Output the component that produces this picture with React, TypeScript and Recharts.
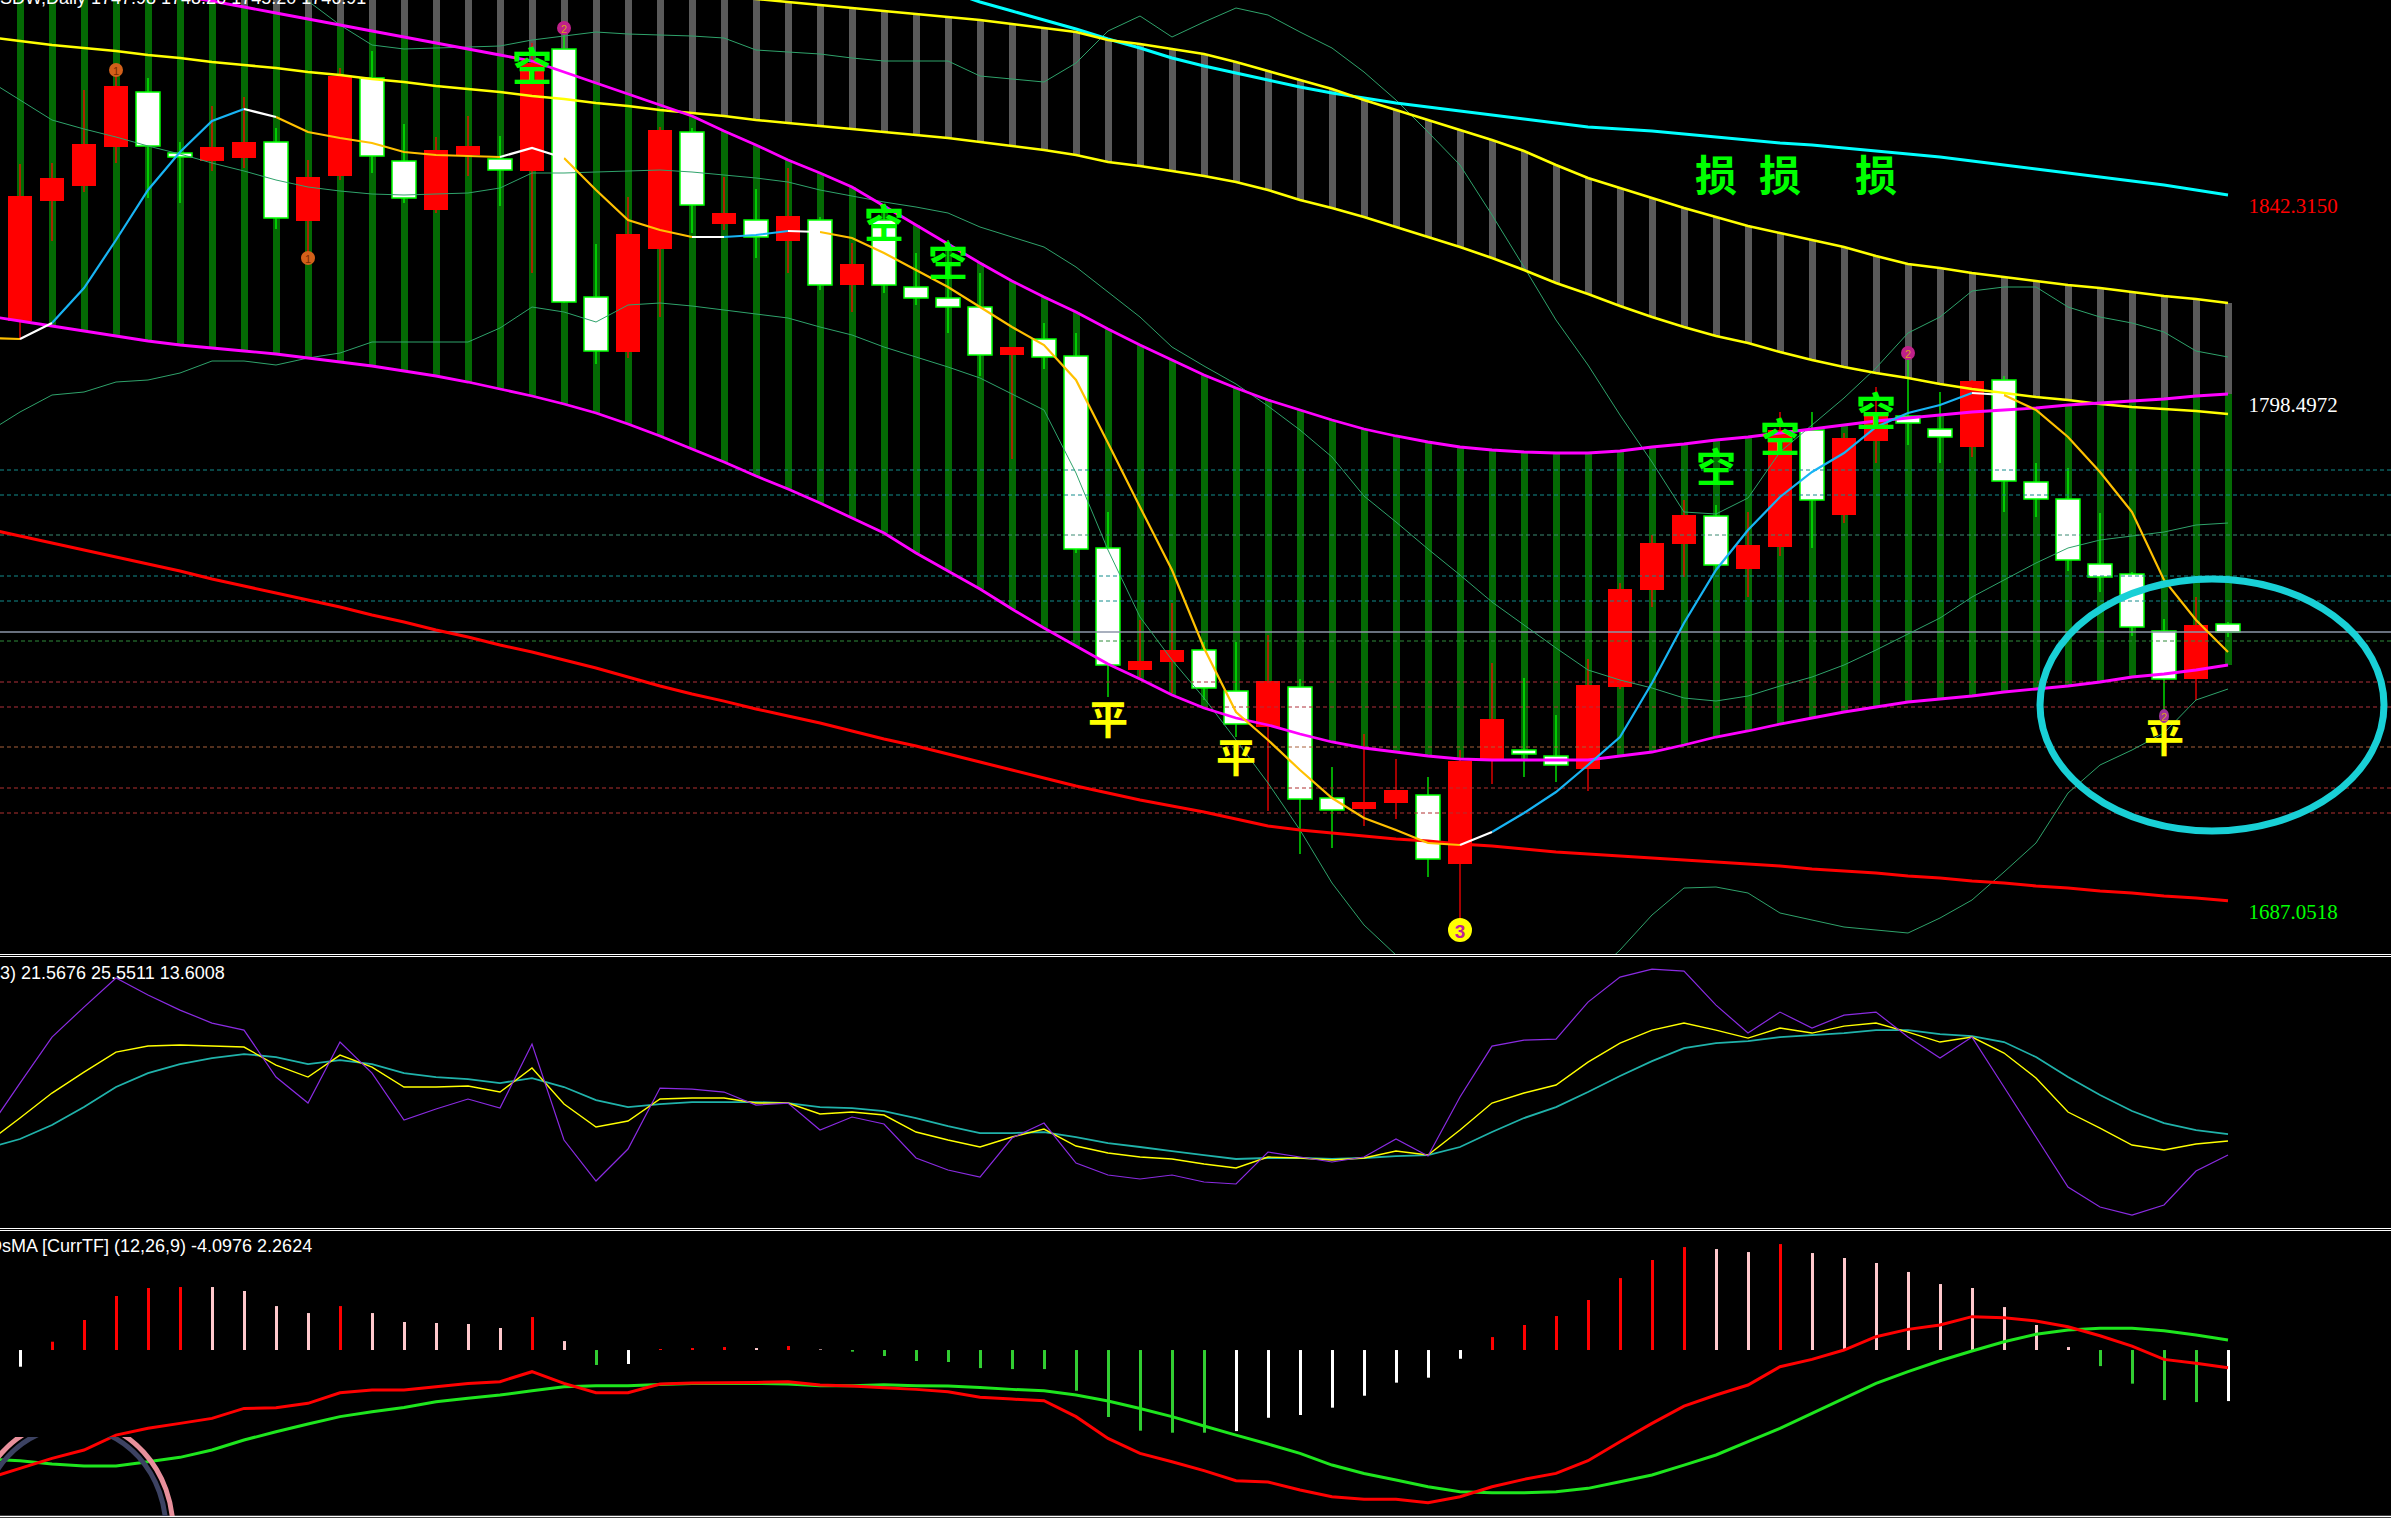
import React from "react";
import { ComposedChart, Bar, Line, XAxis, YAxis, ReferenceLine, ReferenceDot, Cell } from "recharts";

// slot 0 is the bar just left of the window, slots 1..70 are the visible candles
const candleOpen = [1814.60, 1841.00, 1844.30, 1852.88, 1864.98, 1851.56, 1849.80, 1850.46, 1853.98, 1836.60,
  1846.50, 1868.06, 1849.80, 1839.02, 1851.12, 1850.24, 1847.60, 1874.44, 1819.88, 1807.78,
  1830.44, 1856.18, 1835.94, 1836.82, 1832.20, 1836.82, 1822.52, 1836.82, 1822.08, 1819.66,
  1817.68, 1807.12, 1810.64, 1806.90, 1764.66, 1737.82, 1739.58, 1742.22, 1733.20, 1725.28,
  1734.08, 1709.66, 1707.24, 1708.56, 1710.32, 1695.14, 1718.02, 1720.22, 1718.90, 1716.04,
  1734.08, 1755.42, 1765.54, 1771.70, 1760.04, 1764.88, 1790.62, 1771.92, 1788.20, 1793.70,
  1790.84, 1786.88, 1801.62, 1779.18, 1775.44, 1761.14, 1758.94, 1746.40, 1735.84, 1747.94];
const candleHigh = [1849.14, 1849.36, 1865.42, 1868.72, 1868.06, 1853.98, 1861.90, 1863.88, 1857.06, 1850.02,
  1870.26, 1874.00, 1857.94, 1855.08, 1859.70, 1855.30, 1875.76, 1877.96, 1831.54, 1841.88,
  1857.28, 1857.06, 1846.28, 1843.64, 1848.26, 1837.48, 1831.76, 1839.68, 1829.56, 1832.42,
  1825.16, 1808.88, 1814.16, 1811.96, 1772.58, 1748.82, 1752.56, 1743.98, 1743.98, 1745.52,
  1735.84, 1716.48, 1723.74, 1718.24, 1714.28, 1720.22, 1739.36, 1736.06, 1727.92, 1740.24,
  1756.96, 1767.52, 1775.22, 1774.12, 1772.58, 1794.58, 1794.58, 1789.96, 1800.08, 1806.68,
  1798.98, 1801.62, 1802.50, 1783.36, 1782.26, 1772.36, 1759.38, 1749.04, 1753.88, 1748.38];
const candleLow = [1810.42, 1832.20, 1842.98, 1849.36, 1841.66, 1840.56, 1847.60, 1848.26, 1834.84, 1829.12,
  1845.62, 1847.16, 1840.56, 1838.36, 1846.50, 1839.90, 1825.16, 1818.56, 1805.14, 1806.46,
  1815.48, 1833.96, 1834.62, 1828.46, 1825.16, 1821.42, 1816.58, 1820.76, 1818.12, 1811.96,
  1802.50, 1784.24, 1804.04, 1763.56, 1731.88, 1736.28, 1732.76, 1731.22, 1723.08, 1706.80,
  1697.34, 1698.66, 1703.50, 1705.04, 1692.28, 1681.28, 1712.74, 1714.28, 1713.18, 1711.20,
  1733.64, 1751.68, 1758.28, 1760.04, 1753.88, 1762.90, 1764.66, 1770.16, 1783.36, 1787.32,
  1783.36, 1784.68, 1772.58, 1771.48, 1759.60, 1754.98, 1745.30, 1729.02, 1731.22, 1745.08];
const candleClose = [1842.10, 1846.06, 1853.54, 1866.30, 1853.10, 1850.68, 1852.88, 1853.98, 1837.26, 1846.28,
  1868.50, 1850.90, 1841.66, 1852.22, 1853.10, 1847.82, 1871.36, 1818.78, 1808.00, 1833.74,
  1856.62, 1840.12, 1838.36, 1833.08, 1837.70, 1822.52, 1827.14, 1822.52, 1819.66, 1817.68,
  1807.12, 1808.88, 1806.68, 1764.44, 1738.92, 1739.80, 1742.22, 1733.86, 1725.94, 1735.40,
  1709.44, 1707.02, 1708.78, 1711.42, 1696.24, 1717.80, 1727.04, 1719.34, 1716.92, 1734.52,
  1755.64, 1765.76, 1771.92, 1760.92, 1765.32, 1790.62, 1775.22, 1788.86, 1794.36, 1792.16,
  1789.08, 1801.40, 1779.40, 1775.44, 1762.02, 1758.28, 1747.28, 1735.84, 1747.72, 1746.18];

// channel / band lines: first value belongs to the off-window bar at the left edge
const yellowHi = [1900.62, 1899.96, 1899.30, 1898.64, 1897.98, 1897.32, 1896.88, 1896.22, 1895.56, 1894.90, 1894.24,
  1893.58, 1892.92, 1892.26, 1891.60, 1891.16, 1890.50, 1889.84, 1889.18, 1888.52, 1887.86,
  1887.20, 1886.54, 1886.10, 1885.44, 1884.78, 1884.12, 1883.46, 1882.80, 1882.14, 1881.48,
  1880.82, 1879.94, 1879.06, 1878.18, 1876.42, 1875.54, 1874.44, 1873.34, 1871.58, 1869.60,
  1867.62, 1865.64, 1863.22, 1861.02, 1858.82, 1856.62, 1854.42, 1852.00, 1848.92, 1846.06,
  1843.86, 1841.66, 1839.46, 1837.48, 1835.50, 1833.96, 1832.42, 1830.88, 1828.90, 1827.14,
  1826.26, 1825.16, 1824.28, 1823.40, 1822.52, 1821.86, 1820.98, 1820.10, 1819.44, 1818.56];
const yellowLo = [1877.08, 1876.20, 1875.32, 1874.66, 1874.00, 1873.12, 1872.46, 1871.58, 1870.92, 1870.26, 1869.38,
  1868.72, 1867.84, 1867.18, 1866.30, 1865.64, 1864.98, 1864.10, 1863.44, 1862.56, 1861.90,
  1861.02, 1860.36, 1859.70, 1858.82, 1858.16, 1857.50, 1856.84, 1856.18, 1855.52, 1854.86,
  1853.98, 1853.10, 1852.22, 1851.12, 1849.58, 1848.70, 1847.60, 1846.50, 1845.18, 1843.42,
  1841.22, 1839.46, 1837.48, 1835.28, 1833.08, 1830.88, 1828.46, 1825.82, 1822.96, 1820.54,
  1817.90, 1815.48, 1813.28, 1811.30, 1809.76, 1807.78, 1806.02, 1804.48, 1803.16, 1802.06,
  1800.74, 1799.64, 1798.76, 1797.88, 1797.22, 1796.34, 1795.68, 1795.24, 1794.80, 1794.14];
const magentaHi = [1894.02, 1892.70, 1891.38, 1890.06, 1888.74, 1887.42, 1886.10, 1885.00, 1883.68, 1882.36, 1881.04,
  1879.72, 1878.40, 1877.08, 1875.76, 1874.44, 1873.12, 1871.80, 1869.38, 1866.96, 1864.54,
  1862.12, 1859.70, 1856.40, 1853.32, 1850.02, 1847.16, 1844.08, 1839.90, 1835.72, 1831.54,
  1827.36, 1823.40, 1819.88, 1816.58, 1812.84, 1809.32, 1806.02, 1802.72, 1799.86, 1797.22,
  1795.02, 1792.82, 1790.84, 1789.30, 1787.98, 1786.88, 1786.22, 1785.78, 1785.56, 1785.56,
  1786.00, 1786.88, 1787.54, 1788.42, 1789.08, 1789.96, 1790.84, 1791.72, 1792.60, 1793.26,
  1793.92, 1794.58, 1795.02, 1795.46, 1796.12, 1796.56, 1797.00, 1797.44, 1798.10, 1798.54];
const magentaLo = [1815.70, 1814.60, 1813.50, 1812.40, 1811.30, 1810.20, 1809.32, 1808.66, 1808.00, 1807.34, 1806.46,
  1805.58, 1804.70, 1803.60, 1802.50, 1801.18, 1799.64, 1798.10, 1796.34, 1794.36, 1791.94,
  1789.30, 1786.44, 1783.58, 1780.50, 1777.64, 1774.56, 1771.26, 1767.96, 1763.56, 1759.60,
  1755.64, 1751.24, 1747.06, 1743.10, 1739.14, 1735.84, 1732.32, 1729.46, 1727.26, 1725.72,
  1723.74, 1721.98, 1720.66, 1719.78, 1718.90, 1718.24, 1718.02, 1718.02, 1718.02, 1718.02,
  1718.90, 1719.78, 1721.32, 1723.08, 1724.40, 1725.94, 1727.26, 1728.58, 1729.68, 1730.78,
  1731.44, 1732.10, 1732.98, 1733.64, 1734.30, 1735.18, 1736.28, 1736.94, 1737.82, 1738.92];
const cyanLine = [null, null, null, null, null, null, null, null, null, null, null,
  null, null, null, null, null, null, null, null, null, null,
  null, null, null, null, 1898.86, 1896.66, 1894.24, 1891.82, 1889.62, 1887.20,
  1884.78, 1882.80, 1880.82, 1878.84, 1876.64, 1874.66, 1872.46, 1870.70, 1869.16, 1867.62,
  1866.08, 1864.76, 1863.66, 1862.56, 1861.68, 1860.80, 1859.92, 1859.04, 1858.16, 1857.28,
  1856.84, 1856.40, 1855.74, 1855.08, 1854.42, 1853.76, 1853.32, 1852.66, 1852.00, 1851.34,
  1850.68, 1849.80, 1848.92, 1848.04, 1847.16, 1846.28, 1845.40, 1844.52, 1843.42, 1842.32];
const redLine = [1768.84, 1767.30, 1765.76, 1764.22, 1762.68, 1761.14, 1759.60, 1757.84, 1756.30, 1754.76, 1753.22,
  1751.68, 1749.92, 1748.38, 1746.62, 1745.08, 1743.32, 1741.78, 1740.02, 1738.26, 1736.28,
  1734.30, 1732.54, 1730.98, 1729.24, 1727.70, 1726.16, 1724.40, 1722.64, 1721.10, 1719.34,
  1717.58, 1715.82, 1714.06, 1712.30, 1710.76, 1709.22, 1707.90, 1706.58, 1705.04, 1703.50,
  1702.62, 1701.96, 1701.30, 1700.64, 1700.20, 1699.54, 1699.10, 1698.44, 1697.78, 1697.34,
  1696.90, 1696.46, 1696.02, 1695.58, 1695.14, 1694.70, 1694.04, 1693.60, 1693.16, 1692.50,
  1692.06, 1691.40, 1690.96, 1690.30, 1689.86, 1689.20, 1688.76, 1688.10, 1687.66, 1687.05];
const bandUp = [1894.02, 1896.22, 1898.42, 1900.62, 1902.82, 1902.82, 1900.62, 1898.42, 1894.02, 1889.62, 1885.00,
  1879.72, 1875.32, 1874.44, 1874.66, 1874.88, 1875.10, 1876.42, 1877.30, 1878.18, 1877.74,
  1877.52, 1877.30, 1876.86, 1874.22, 1873.78, 1873.34, 1872.46, 1871.80, 1871.80, 1871.80,
  1868.50, 1867.84, 1867.18, 1871.36, 1878.40, 1881.70, 1877.08, 1880.38, 1883.46, 1881.92,
  1878.18, 1874.66, 1869.38, 1863.22, 1856.18, 1848.92, 1837.92, 1826.48, 1814.82, 1804.92,
  1793.92, 1783.58, 1772.58, 1772.14, 1775.66, 1785.78, 1791.72, 1797.66, 1804.26, 1811.96,
  1815.48, 1821.20, 1822.08, 1822.08, 1817.68, 1815.48, 1814.16, 1812.18, 1808.00, 1806.68];
const bandMid = [1867.62, 1863.22, 1858.82, 1856.84, 1855.08, 1853.10, 1851.34, 1849.36, 1847.60, 1845.62, 1844.08,
  1843.20, 1842.54, 1842.32, 1842.54, 1842.76, 1843.86, 1847.16, 1847.16, 1847.38, 1847.60,
  1847.82, 1847.38, 1846.72, 1846.06, 1845.18, 1843.42, 1842.10, 1840.78, 1839.68, 1838.36,
  1835.28, 1833.08, 1830.88, 1826.48, 1820.98, 1815.48, 1808.88, 1804.70, 1800.74, 1795.90,
  1790.62, 1784.68, 1776.10, 1770.38, 1764.44, 1758.72, 1752.78, 1747.72, 1742.66, 1737.82,
  1735.62, 1733.86, 1731.66, 1731.00, 1732.10, 1734.30, 1736.28, 1738.92, 1742.22, 1745.74,
  1749.26, 1753.88, 1757.62, 1761.36, 1764.66, 1766.42, 1767.30, 1768.18, 1769.72, 1770.16];
const bandLow = [1790.18, 1794.58, 1798.32, 1798.98, 1801.18, 1801.62, 1803.16, 1805.80, 1805.80, 1804.92, 1806.46,
  1807.56, 1809.98, 1809.98, 1809.98, 1809.98, 1813.06, 1817.68, 1816.58, 1814.38, 1818.12,
  1818.56, 1817.90, 1817.02, 1816.14, 1815.26, 1813.28, 1811.52, 1808.88, 1806.68, 1804.48,
  1802.06, 1798.54, 1795.02, 1781.16, 1764.22, 1749.48, 1740.02, 1731.66, 1722.42, 1712.96,
  1702.62, 1690.96, 1681.72, 1675.12, 1668.52, 1664.12, 1660.82, 1660.82, 1664.12, 1669.62,
  1676.22, 1683.92, 1689.86, 1690.08, 1688.76, 1684.36, 1682.82, 1681.28, 1680.62, 1679.96,
  1683.26, 1687.22, 1693.38, 1699.76, 1710.76, 1716.92, 1720.22, 1723.96, 1731.22, 1733.64];
const maLine = [1810.86, 1810.64, 1814.16, 1821.86, 1832.42, 1843.42, 1851.78, 1858.60, 1861.24, 1859.48, 1856.18,
  1854.86, 1853.76, 1851.78, 1851.12, 1850.90, 1850.68, 1852.66, 1850.46, 1843.42, 1836.82,
  1834.62, 1833.08, 1833.08, 1833.52, 1834.40, 1834.18, 1832.86, 1829.56, 1825.82, 1822.08,
  1817.68, 1813.28, 1809.32, 1801.62, 1787.76, 1773.68, 1759.82, 1742.66, 1728.58, 1722.42,
  1715.82, 1709.66, 1705.26, 1702.62, 1699.76, 1699.32, 1702.18, 1706.36, 1710.98, 1716.92,
  1723.08, 1734.96, 1748.16, 1759.82, 1768.62, 1775.88, 1781.38, 1785.56, 1791.28, 1794.36,
  1796.12, 1798.76, 1798.32, 1795.02, 1789.08, 1781.38, 1772.58, 1757.62, 1748.82, 1741.78];
// colour of the MA segment that ends at each slot: u = rising, d = falling, f = flat
const maTrend = ["d", "d", "f", "uuuuuu", "f", "ddddddd", "ff", "dddd", "f", "uu", "f",
  "dddddddddddddddddddd", "f", "uuuuuuuuuuuuuuu", "f", "ddddddd"].join("").split("");

// lower windows
const oscPurple = [27.83, 54.58, 80.76, 97.84, 114.34, 104.67, 96.13, 88.73, 84.75, 58.00, 43.20,
  77.92, 60.27, 33.52, 39.78, 45.48, 40.35, 76.78, 22.14, -1.20, 17.02,
  51.74, 51.17, 49.46, 42.06, 43.20, 27.83, 35.23, 31.25, 11.90, 5.07,
  1.08, 23.28, 31.82, 9.05, 2.22, -0.06, 2.22, -1.76, -2.90, 15.31,
  12.46, 9.62, 12.46, 22.71, 13.03, 46.61, 75.64, 79.05, 79.62, 100.68,
  114.91, 119.46, 118.33, 98.97, 83.04, 94.99, 85.88, 93.28, 94.99, 80.76,
  68.81, 80.76, 52.31, 23.85, -4.61, -15.99, -20.55, -14.85, 4.50, 13.60];
const oscYellow = [21.00, 34.66, 48.89, 60.84, 72.23, 75.64, 76.21, 75.64, 75.07, 64.83, 58.00,
  70.52, 63.69, 52.31, 52.31, 52.87, 49.46, 63.12, 42.63, 29.54, 32.95,
  45.48, 46.04, 46.04, 43.20, 43.20, 36.94, 38.08, 36.37, 26.69, 22.14,
  18.16, 23.85, 28.40, 18.72, 14.74, 12.46, 11.33, 8.48, 6.20, 12.46,
  11.90, 10.76, 11.90, 15.88, 13.60, 27.83, 43.20, 48.89, 53.44, 66.53,
  77.35, 84.75, 88.73, 84.75, 80.19, 85.88, 83.04, 87.02, 88.73, 83.61,
  77.92, 80.76, 71.66, 57.43, 38.08, 28.97, 19.29, 16.45, 19.86, 21.57];
const oscTeal = [17.59, 22.71, 30.68, 40.92, 52.31, 60.27, 65.40, 68.81, 71.09, 69.38, 65.40,
  67.67, 65.40, 60.27, 58.00, 56.86, 54.58, 57.43, 52.31, 44.91, 40.92,
  42.63, 43.77, 43.77, 43.77, 43.20, 40.92, 40.35, 38.65, 34.66, 30.11,
  26.12, 26.12, 26.69, 23.85, 20.43, 18.16, 15.88, 13.60, 11.33, 11.90,
  11.90, 11.33, 11.90, 13.03, 13.60, 18.16, 26.69, 34.66, 40.92, 49.46,
  58.57, 67.10, 74.50, 77.35, 78.49, 80.76, 81.90, 83.04, 84.75, 84.75,
  82.47, 81.33, 77.92, 69.38, 58.00, 47.75, 38.65, 31.82, 27.83, 25.55];
const macdLine = [-10.31, -9.50, -8.70, -8.03, -6.83, -6.29, -5.89, -5.49, -4.69, -4.63, -4.28,
  -3.43, -3.21, -3.21, -2.95, -2.68, -2.54, -1.74, -2.68, -3.43, -3.43,
  -2.73, -2.65, -2.62, -2.60, -2.54, -2.81, -2.89, -3.03, -3.16, -3.35,
  -3.80, -3.94, -4.07, -5.35, -7.10, -8.30, -8.97, -9.69, -10.50, -10.60,
  -11.24, -11.78, -11.99, -11.99, -12.26, -11.78, -10.98, -10.39, -9.91, -8.89,
  -7.36, -5.89, -4.50, -3.61, -2.81, -1.34, -0.75, 0.00, 1.07, 1.66,
  2.01, 2.68, 2.60, 2.33, 1.87, 1.15, 0.32, -0.75, -1.07, -1.42];
const signalLine = [-8.78, -8.89, -9.16, -9.32, -9.32, -8.97, -8.62, -8.03, -7.23, -6.56, -5.94,
  -5.35, -4.95, -4.61, -4.15, -3.88, -3.61, -3.27, -2.95, -2.86, -2.86,
  -2.76, -2.68, -2.68, -2.68, -2.73, -2.86, -2.86, -2.78, -2.86, -2.89,
  -3.00, -3.16, -3.27, -3.61, -4.10, -4.69, -5.35, -6.10, -6.83, -7.55,
  -8.30, -9.24, -9.91, -10.44, -10.98, -11.38, -11.46, -11.46, -11.38, -11.11,
  -10.58, -10.04, -9.24, -8.43, -7.36, -6.29, -5.09, -3.88, -2.68, -1.74,
  -0.86, -0.08, 0.67, 1.26, 1.61, 1.74, 1.74, 1.55, 1.20, 0.80];
const osmaHist = [-1.34, 0.67, 2.41, 4.34, 4.98, 5.06, 5.06, 4.74, 3.53, 2.97,
  3.53, 2.97, 2.25, 2.17, 2.09, 1.77, 2.65, 0.72, -1.20, -1.12,
  0.08, 0.16, 0.24, 0.16, 0.32, 0.05, -0.13, -0.48, -0.88, -0.96,
  -1.45, -1.53, -1.53, -3.27, -5.38, -6.48, -6.64, -6.64, -6.51, -5.44,
  -5.22, -4.63, -3.67, -2.62, -2.22, -0.70, 1.04, 2.01, 2.73, 4.02,
  5.78, 7.23, 8.27, 8.11, 7.87, 8.51, 7.79, 7.39, 6.99, 6.27,
  5.30, 4.98, 3.45, 2.01, 0.24, -1.29, -2.70, -4.02, -4.18, -4.10];
const histKind = ["w", "rrrrr", "pppp", "r", "ppppp", "r", "p", "g", "w", "rrr", "p", "r", "p",
  "gggggggggggg", "wwwwwwww", "rrrrrrr", "pp", "r", "ppppppppp", "gggg", "w"].join("").split("");
const histColors: Record<string, string> = { r: "#FF0000", p: "#FFC8CC", g: "#32CD32", w: "#FFFFFF" };

// signal marks (candle index, price)
const kongMarks = [{ i: 16, p: 1871.14 }, { i: 27, p: 1836.60 }, { i: 29, p: 1828.24 },
  { i: 53, p: 1782.92 }, { i: 55, p: 1789.52 }, { i: 58, p: 1795.24 }];
const pingMarks = [{ i: 34, p: 1727.48 }, { i: 38, p: 1719.12 }, { i: 67, p: 1723.52 }];
const sunMarks = [{ i: 53, p: 1847.38 }, { i: 55, p: 1847.38 }, { i: 58, p: 1847.38 }];
const numMarks = [
  { i: 3, p: 1869.82, n: "1", kind: "o" }, { i: 9, p: 1828.46, n: "1", kind: "o" },
  { i: 17, p: 1879.06, n: "2", kind: "m" }, { i: 45, p: 1680.62, n: "3", kind: "y" },
  { i: 59, p: 1807.56, n: "2", kind: "m" }, { i: 67, p: 1727.70, n: "2", kind: "s" },
];
const levelPrices = [1781.82, 1776.32, 1767.52, 1758.50, 1753.00, 1744.20, 1735.18, 1729.68, 1720.88, 1711.86, 1706.36];
const levelColors = ["#138C8C", "#138C8C", "#3A8A72", "#138C8C", "#138C8C", "#2E8B3A", "#B0303A", "#B0303A", "#A8603A", "#B03030", "#B03030"];
const lastPrice = 1746.18;
const priceTags = [
  { text: "1842.3150", p: 1842.315, color: "#FF0000" },
  { text: "1798.4972", p: 1798.4972, color: "#FFFFFF" },
  { text: "1687.0518", p: 1687.0518, color: "#00FF00" },
];

const SLOTS = 76;
const CHART_W = 2432;
const CHART_LEFT = -27.6;
const slotIds = Array.from({ length: SLOTS }, (_, s) => s);

const mainRows = slotIds.map((s) => {
  const k = s - 1;
  const row: Record<string, any> = { s };
  if (s < yellowHi.length) {
    row.yHi = yellowHi[s];
    row.yLo = yellowLo[s];
    row.mHi = magentaHi[s];
    row.mLo = magentaLo[s];
    row.cyan = cyanLine[s];
    row.red = redLine[s];
    row.bu = bandUp[s];
    row.bm = bandMid[s];
    row.bl = bandLow[s];
    for (const t of ["u", "d", "f"]) {
      if (maTrend[s] === t || maTrend[s + 1] === t) row["ma_" + t] = maLine[s];
    }
  }
  if (k >= 0 && k < candleOpen.length) {
    row.o = candleOpen[k];
    row.h = candleHigh[k];
    row.l = candleLow[k];
    row.c = candleClose[k];
    row.candle = [candleLow[k], candleHigh[k]];
    row.green = [magentaLo[s], magentaHi[s]];
    row.gray = [yellowLo[s], yellowHi[s]];
  }
  return row;
});

const oscRows = slotIds.map((s) =>
  s < oscPurple.length ? { s, pu: oscPurple[s], ye: oscYellow[s], te: oscTeal[s] } : { s });

const macdRows = slotIds.map((s) => {
  const k = s - 1;
  const row: Record<string, any> = { s };
  if (s < macdLine.length) {
    row.macd = macdLine[s];
    row.sig = signalLine[s];
  }
  if (k >= 0 && k < osmaHist.length) row.hist = osmaHist[k];
  return row;
});

const CandleShape = (props: any) => {
  const { x, y, width, height, payload } = props;
  if (!payload || payload.o == null) return null;
  const { o, h, l, c } = payload;
  const top = Math.min(y, y + height);
  const span = Math.abs(height);
  const py = (p: number) => top + ((h - p) / (h - l)) * span;
  const cx = x + width / 2;
  const rising = c > o;
  const bTop = py(Math.max(o, c));
  const bBot = py(Math.min(o, c));
  const col = rising ? "#FF0000" : "#00FF00";
  return (
    <g>
      <line x1={cx} x2={cx} y1={top} y2={top + span} stroke={col} strokeWidth={1.3} />
      <rect x={cx - 12} y={bTop} width={24} height={Math.max(bBot - bTop, 1.5)}
        fill={rising ? "#FF0000" : "#FFFFFF"} stroke={rising ? "none" : "#00FF00"} strokeWidth={1.5} />
    </g>
  );
};

const glyph = (ch: string, color: string, size: number) => (p: any) => (
  <text x={p.cx} y={p.cy} fill={color} fontSize={size} fontWeight={700}
    fontFamily="'Noto Sans CJK SC'" textAnchor="middle" dominantBaseline="central">{ch}</text>
);

const numShape = (n: string, kind: string) => (p: any) => {
  if (kind === "y") {
    return (
      <g>
        <circle cx={p.cx} cy={p.cy} r={12} fill="#FFFF00" />
        <text x={p.cx} y={p.cy + 1} fill="#C0209A" fontSize={19} fontWeight={700} fontFamily="Liberation Sans"
          textAnchor="middle" dominantBaseline="central">{n}</text>
      </g>
    );
  }
  const fill = kind === "o" ? "#D2601A" : kind === "s" ? "#A0309A" : "#C0208A";
  const rx = kind === "s" ? 5 : 7;
  return (
    <g>
      <ellipse cx={p.cx} cy={p.cy} rx={rx} ry={7} fill={fill} />
      <text x={p.cx} y={p.cy + 1} fill={kind === "o" ? "#7A2A00" : "#D8A020"} fontSize={11}
        fontFamily="Liberation Sans" textAnchor="middle" dominantBaseline="central">{n}</text>
    </g>
  );
};

const tagShape = (text: string, color: string) => (p: any) => (
  <text x={p.cx + 20.6} y={p.cy + 18} fill={color} fontSize={21} fontFamily="Liberation Serif">{text}</text>
);

const lineProps = { dot: false, activeDot: false, isAnimationActive: false, type: "linear" as const, xAxisId: "c" };

function MainChart() {
  return (
    <ComposedChart width={CHART_W} height={954} data={mainRows} margin={{ top: 0, right: 0, bottom: 0, left: 0 }}>
      <XAxis xAxisId="c" dataKey="s" type="category" scale="band" hide />
      <XAxis xAxisId="g" dataKey="s" type="category" scale="band" hide />
      <XAxis xAxisId="k" dataKey="s" type="category" scale="band" hide />
      <YAxis hide type="number" domain={[1675.34, 1885.22]} allowDataOverflow />
      <Bar xAxisId="k" dataKey="gray" barSize={7} fill="#5A5A5A" isAnimationActive={false} />
      <Bar xAxisId="g" dataKey="green" barSize={7} fill="#046A04" isAnimationActive={false} />
      {levelPrices.map((p, j) => (
        <ReferenceLine key={"lv" + j} xAxisId="c" y={p} stroke={levelColors[j]} strokeWidth={1} strokeDasharray="4 3" />
      ))}
      <ReferenceLine xAxisId="c" y={lastPrice} stroke="#8C96A8" strokeWidth={1.3} />
      <Line {...lineProps} dataKey="bu" stroke="#2FA36B" strokeWidth={1} />
      <Line {...lineProps} dataKey="bm" stroke="#2FA36B" strokeWidth={1} />
      <Line {...lineProps} dataKey="bl" stroke="#2FA36B" strokeWidth={1} />
      <Line {...lineProps} dataKey="red" stroke="#FF0000" strokeWidth={3} />
      <Line {...lineProps} dataKey="cyan" stroke="#00FFFF" strokeWidth={3} />
      <Line {...lineProps} dataKey="yHi" stroke="#FFFF00" strokeWidth={2.6} />
      <Line {...lineProps} dataKey="yLo" stroke="#FFFF00" strokeWidth={2.6} />
      <Line {...lineProps} dataKey="mHi" stroke="#FF00FF" strokeWidth={2.8} />
      <Line {...lineProps} dataKey="mLo" stroke="#FF00FF" strokeWidth={2.8} />
      <Bar xAxisId="c" dataKey="candle" barSize={24} shape={<CandleShape />} isAnimationActive={false} />
      <Line {...lineProps} dataKey="ma_u" stroke="#18B4F4" strokeWidth={2.2} />
      <Line {...lineProps} dataKey="ma_d" stroke="#FFC000" strokeWidth={2.2} />
      <Line {...lineProps} dataKey="ma_f" stroke="#FFFFFF" strokeWidth={2.2} />
      {kongMarks.map((m, j) => (
        <ReferenceDot key={"k" + j} xAxisId="c" x={m.i + 1} y={m.p} r={0} shape={glyph("空", "#00FF00", 40)} />
      ))}
      {pingMarks.map((m, j) => (
        <ReferenceDot key={"p" + j} xAxisId="c" x={m.i + 1} y={m.p} r={0} shape={glyph("平", "#FFFF00", 40)} />
      ))}
      {sunMarks.map((m, j) => (
        <ReferenceDot key={"s" + j} xAxisId="c" x={m.i + 1} y={m.p} r={0} shape={glyph("损", "#00FF00", 42)} />
      ))}
      {numMarks.map((m, j) => (
        <ReferenceDot key={"n" + j} xAxisId="c" x={m.i + 1} y={m.p} r={0} shape={numShape(m.n, m.kind)} />
      ))}
      {priceTags.map((t, j) => (
        <ReferenceDot key={"t" + j} xAxisId="c" x={70} y={t.p} r={0} shape={tagShape(t.text, t.color)} />
      ))}
    </ComposedChart>
  );
}

function OscChart() {
  return (
    <ComposedChart width={CHART_W} height={271} data={oscRows} margin={{ top: 0, right: 0, bottom: 0, left: 0 }}>
      <XAxis xAxisId="c" dataKey="s" type="category" scale="band" hide />
      <YAxis hide type="number" domain={[-27.95, 126.35]} allowDataOverflow />
      <Line {...lineProps} dataKey="te" stroke="#20B2AA" strokeWidth={1.8} />
      <Line {...lineProps} dataKey="ye" stroke="#FFFF00" strokeWidth={1.4} />
      <Line {...lineProps} dataKey="pu" stroke="#8A2BE2" strokeWidth={1.2} />
    </ComposedChart>
  );
}

function MacdChart() {
  return (
    <ComposedChart width={CHART_W} height={285} data={macdRows} margin={{ top: 0, right: 0, bottom: 0, left: 0 }}>
      <XAxis xAxisId="c" dataKey="s" type="category" scale="band" hide />
      <YAxis hide type="number" domain={[-13.33, 9.56]} allowDataOverflow />
      <Bar xAxisId="c" dataKey="hist" barSize={3} isAnimationActive={false}>
        {macdRows.map((r, j) => (
          <Cell key={j} fill={r.hist == null ? "none" : histColors[histKind[j - 1]]} />
        ))}
      </Bar>
      <Line {...lineProps} dataKey="sig" stroke="#1EE61E" strokeWidth={3} />
      <Line {...lineProps} dataKey="macd" stroke="#FF0000" strokeWidth={3} />
    </ComposedChart>
  );
}

export default function App() {
  const labelFont = { fontFamily: "Liberation Sans", fontSize: 18, fill: "#FFFFFF" };
  return (
    <div style={{ position: "absolute", left: 0, top: 0, width: 2391, height: 1518, background: "#000", overflow: "hidden" }}>
      <div style={{ position: "absolute", left: CHART_LEFT, top: 0 }}><MainChart /></div>
      <div style={{ position: "absolute", left: CHART_LEFT, top: 957 }}><OscChart /></div>
      <div style={{ position: "absolute", left: CHART_LEFT, top: 1231 }}><MacdChart /></div>
      <svg width={2391} height={1518} style={{ position: "absolute", left: 0, top: 0, pointerEvents: "none" }}>
        <defs>
          <clipPath id="macdClip"><rect x={0} y={1437} width={400} height={79} /></clipPath>
        </defs>
        <text x={0} y={4} {...labelFont}>SDW,Daily  1747.98 1748.20 1745.20 1746.91</text>
        <text x={0} y={979} {...labelFont}>3) 21.5676 25.5511 13.6008</text>
        <text x={-12} y={1252} {...labelFont}>OsMA [CurrTF] (12,26,9) -4.0976 2.2624</text>
        <line x1={0} x2={2391} y1={954.5} y2={954.5} stroke="#FFFFFF" strokeWidth={1} />
        <line x1={0} x2={2391} y1={956.5} y2={956.5} stroke="#FFFFFF" strokeWidth={1} />
        <line x1={0} x2={2391} y1={1228.5} y2={1228.5} stroke="#FFFFFF" strokeWidth={1} />
        <line x1={0} x2={2391} y1={1230.5} y2={1230.5} stroke="#FFFFFF" strokeWidth={1} />
        <line x1={0} x2={2391} y1={1516.5} y2={1516.5} stroke="#FFFFFF" strokeWidth={1.5} />
        <g clipPath="url(#macdClip)">
          <ellipse cx={73} cy={1530} rx={100} ry={110} fill="none" stroke="#E8909C" strokeWidth={5} />
          <ellipse cx={73} cy={1530} rx={93} ry={103} fill="none" stroke="#3C4262" strokeWidth={5} />
        </g>
        <ellipse cx={2212} cy={705} rx={172} ry={126} fill="none" stroke="#19D0D6" strokeWidth={7} />
      </svg>
    </div>
  );
}
